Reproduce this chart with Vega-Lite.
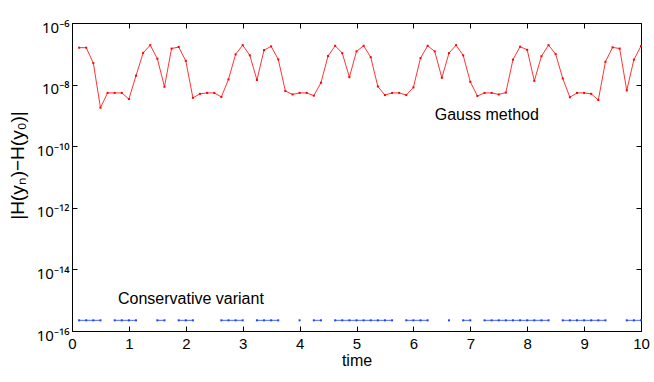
{
  "$schema": "https://vega.github.io/schema/vega-lite/v6.json",
  "width": 569,
  "height": 308,
  "autosize": {"type": "none"},
  "padding": {"left": 72, "top": 23, "right": 13, "bottom": 51},
  "background": "white",
  "config": {
    "view": {"stroke": "black", "strokeWidth": 1},
    "font": "Liberation Sans",
    "axis": {"grid": false, "domainColor": "black", "tickColor": "black", "labelColor": "black", "titleColor": "black", "labelFont": "Liberation Sans", "titleFont": "Liberation Sans", "labelFontSize": 15, "titleFontSize": 16, "titleFontWeight": "normal", "tickSize": -5, "domainWidth": 1, "tickWidth": 1}
  },
  "datasets": {
    "main": [
      {"t": 0.125, "gauss": 1.58e-7, "cons": 2.22e-16},
      {"t": 0.25, "gauss": 1.58e-7, "cons": 2.22e-16},
      {"t": 0.375, "gauss": 5.0e-8, "cons": 2.22e-16},
      {"t": 0.5, "gauss": 1.78e-9, "cons": 2.22e-16},
      {"t": 0.625, "gauss": 5.37e-9, "cons": null},
      {"t": 0.75, "gauss": 5.37e-9, "cons": 2.22e-16},
      {"t": 0.875, "gauss": 5.37e-9, "cons": 2.22e-16},
      {"t": 1.0, "gauss": 3.39e-9, "cons": 2.22e-16},
      {"t": 1.125, "gauss": 1.95e-8, "cons": 2.22e-16},
      {"t": 1.25, "gauss": 1.07e-7, "cons": null},
      {"t": 1.375, "gauss": 1.91e-7, "cons": null},
      {"t": 1.5, "gauss": 6.92e-8, "cons": 2.22e-16},
      {"t": 1.625, "gauss": 8.51e-9, "cons": 2.22e-16},
      {"t": 1.75, "gauss": 1.48e-7, "cons": null},
      {"t": 1.875, "gauss": 1.66e-7, "cons": 2.22e-16},
      {"t": 2.0, "gauss": 5.89e-8, "cons": 2.22e-16},
      {"t": 2.125, "gauss": 3.72e-9, "cons": 2.22e-16},
      {"t": 2.25, "gauss": 5.01e-9, "cons": null},
      {"t": 2.375, "gauss": 5.37e-9, "cons": null},
      {"t": 2.5, "gauss": 5.37e-9, "cons": null},
      {"t": 2.625, "gauss": 3.98e-9, "cons": 2.22e-16},
      {"t": 2.75, "gauss": 1.48e-8, "cons": 2.22e-16},
      {"t": 2.875, "gauss": 9.55e-8, "cons": 2.22e-16},
      {"t": 3.0, "gauss": 1.91e-7, "cons": 2.22e-16},
      {"t": 3.125, "gauss": 8.91e-8, "cons": null},
      {"t": 3.25, "gauss": 1.41e-8, "cons": 2.22e-16},
      {"t": 3.375, "gauss": 1.32e-7, "cons": 2.22e-16},
      {"t": 3.5, "gauss": 1.74e-7, "cons": 2.22e-16},
      {"t": 3.625, "gauss": 6.61e-8, "cons": 2.22e-16},
      {"t": 3.75, "gauss": 6.17e-9, "cons": null},
      {"t": 3.875, "gauss": 4.79e-9, "cons": null},
      {"t": 4.0, "gauss": 5.37e-9, "cons": 2.22e-16},
      {"t": 4.125, "gauss": 5.37e-9, "cons": null},
      {"t": 4.25, "gauss": 4.37e-9, "cons": 2.22e-16},
      {"t": 4.375, "gauss": 1.15e-8, "cons": 2.22e-16},
      {"t": 4.5, "gauss": 8.51e-8, "cons": null},
      {"t": 4.625, "gauss": 1.82e-7, "cons": 2.22e-16},
      {"t": 4.75, "gauss": 1.05e-7, "cons": 2.22e-16},
      {"t": 4.875, "gauss": 1.74e-8, "cons": 2.22e-16},
      {"t": 5.0, "gauss": 1.2e-7, "cons": 2.22e-16},
      {"t": 5.125, "gauss": 1.82e-7, "cons": 2.22e-16},
      {"t": 5.25, "gauss": 7.76e-8, "cons": 2.22e-16},
      {"t": 5.375, "gauss": 8.71e-9, "cons": 2.22e-16},
      {"t": 5.5, "gauss": 4.57e-9, "cons": 2.22e-16},
      {"t": 5.625, "gauss": 5.37e-9, "cons": 2.22e-16},
      {"t": 5.75, "gauss": 5.37e-9, "cons": null},
      {"t": 5.875, "gauss": 4.57e-9, "cons": 2.22e-16},
      {"t": 6.0, "gauss": 8.13e-9, "cons": 2.22e-16},
      {"t": 6.125, "gauss": 7.24e-8, "cons": 2.22e-16},
      {"t": 6.25, "gauss": 1.82e-7, "cons": 2.22e-16},
      {"t": 6.375, "gauss": 1.2e-7, "cons": null},
      {"t": 6.5, "gauss": 1.66e-8, "cons": null},
      {"t": 6.625, "gauss": 1.05e-7, "cons": 2.22e-16},
      {"t": 6.75, "gauss": 1.91e-7, "cons": null},
      {"t": 6.875, "gauss": 8.91e-8, "cons": 2.22e-16},
      {"t": 7.0, "gauss": 1.23e-8, "cons": 2.22e-16},
      {"t": 7.125, "gauss": 4.27e-9, "cons": null},
      {"t": 7.25, "gauss": 5.37e-9, "cons": 2.22e-16},
      {"t": 7.375, "gauss": 5.37e-9, "cons": 2.22e-16},
      {"t": 7.5, "gauss": 4.79e-9, "cons": 2.22e-16},
      {"t": 7.625, "gauss": 5.5e-9, "cons": 2.22e-16},
      {"t": 7.75, "gauss": 6.46e-8, "cons": 2.22e-16},
      {"t": 7.875, "gauss": 1.7e-7, "cons": 2.22e-16},
      {"t": 8.0, "gauss": 1.35e-7, "cons": 2.22e-16},
      {"t": 8.125, "gauss": 1.32e-8, "cons": 2.22e-16},
      {"t": 8.25, "gauss": 8.32e-8, "cons": 2.22e-16},
      {"t": 8.375, "gauss": 1.91e-7, "cons": 2.22e-16},
      {"t": 8.5, "gauss": 9.77e-8, "cons": null},
      {"t": 8.625, "gauss": 1.58e-8, "cons": 2.22e-16},
      {"t": 8.75, "gauss": 3.89e-9, "cons": 2.22e-16},
      {"t": 8.875, "gauss": 5.37e-9, "cons": 2.22e-16},
      {"t": 9.0, "gauss": 5.37e-9, "cons": 2.22e-16},
      {"t": 9.125, "gauss": 5.01e-9, "cons": 2.22e-16},
      {"t": 9.25, "gauss": 3.16e-9, "cons": 2.22e-16},
      {"t": 9.375, "gauss": 5.5e-8, "cons": 2.22e-16},
      {"t": 9.5, "gauss": 1.62e-7, "cons": null},
      {"t": 9.625, "gauss": 1.48e-7, "cons": null},
      {"t": 9.75, "gauss": 6.46e-9, "cons": 2.22e-16},
      {"t": 9.875, "gauss": 6.46e-8, "cons": 2.22e-16},
      {"t": 10.0, "gauss": 1.78e-7, "cons": 2.22e-16}
    ],
    "notes": [
      {"t": 7.29, "v": 1.02e-9, "label": "Gauss method"},
      {"t": 2.09, "v": 1.1e-15, "label": "Conservative variant"}
    ]
  },
  "resolve": {"axis": {"x": "independent", "y": "independent"}},
  "layer": [
    {
      "data": {"name": "main"},
      "mark": {"type": "line", "color": "#ff0000", "strokeWidth": 0.8, "clip": true},
      "encoding": {
        "x": {"field": "t", "type": "quantitative", "scale": {"domain": [0, 10], "nice": false, "zero": false}, "axis": {"orient": "bottom", "values": [0,1,2,3,4,5,6,7,8,9,10], "title": "time", "labelPadding": 10, "titlePadding": 1, "labelFlush": false}},
        "y": {"field": "gauss", "type": "quantitative", "scale": {"type": "log", "domain": [1e-16, 1e-6], "nice": false}, "axis": {"orient": "left", "values": [1e-16, 1e-14, 1e-12, 1e-10, 1e-8, 1e-6], "title": "|H(yₙ)−H(y₀)|", "titleFontSize": 19, "titleX": -55, "titleY": 142, "titleAngle": 270, "titleAlign": "center", "titleBaseline": "middle", "labelPadding": 8, "labelFont": "Noto Sans", "labelFontSize": 15, "labelBaseline": "middle", "labelOffset": 4, "labelFlush": false, "labelExpr": "datum.value < 5e-16 ? '10⁻¹⁶' : datum.value < 5e-14 ? '10⁻¹⁴' : datum.value < 5e-12 ? '10⁻¹²' : datum.value < 5e-10 ? '10⁻¹⁰' : datum.value < 5e-8 ? '10⁻⁸' : '10⁻⁶'"}}
      }
    },
    {
      "data": {"name": "main"},
      "mark": {"type": "point", "shape": "square", "size": 4, "filled": true, "color": "#ff0000", "opacity": 1},
      "encoding": {
        "x": {"field": "t", "type": "quantitative", "axis": null},
        "y": {"field": "gauss", "type": "quantitative", "axis": null}
      }
    },
    {
      "data": {"name": "main"},
      "mark": {"type": "line", "color": "#1f3fff", "strokeWidth": 0.8, "invalid": "break-paths-show-domains"},
      "encoding": {
        "x": {"field": "t", "type": "quantitative", "axis": {"orient": "top", "values": [0,1,2,3,4,5,6,7,8,9,10], "labels": false, "title": null, "domain": false}},
        "y": {"field": "cons", "type": "quantitative", "axis": {"orient": "right", "values": [1e-16, 1e-14, 1e-12, 1e-10, 1e-8, 1e-6], "labels": false, "title": null, "domain": false}}
      }
    },
    {
      "data": {"name": "main"},
      "mark": {"type": "point", "shape": "square", "size": 4, "filled": true, "color": "#1f3fff", "opacity": 1},
      "encoding": {
        "x": {"field": "t", "type": "quantitative", "axis": null},
        "y": {"field": "cons", "type": "quantitative", "axis": null}
      }
    },
    {
      "data": {"name": "notes"},
      "mark": {"type": "text", "fontSize": 16, "font": "Liberation Sans", "color": "black", "align": "center", "baseline": "middle"},
      "encoding": {
        "x": {"field": "t", "type": "quantitative", "axis": null},
        "y": {"field": "v", "type": "quantitative", "axis": null},
        "text": {"field": "label"}
      }
    }
  ]
}
